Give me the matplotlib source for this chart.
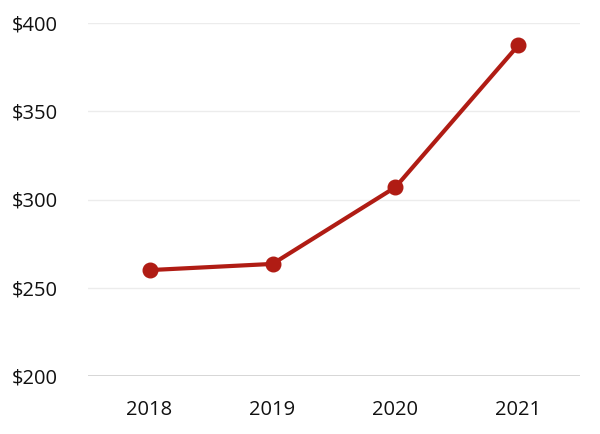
import matplotlib
matplotlib.use('Agg')
import matplotlib.pyplot as plt

# data
years = ['2018', '2019', '2020', '2021']
values = [260, 263.5, 307, 387.5]
yticks = [200, 250, 300, 350, 400]

plt.rcParams['font.family'] = ['Open Sans', 'DejaVu Sans']

fig = plt.figure(figsize=(6, 4.34), dpi=100)
ax = fig.add_axes([88/600, (434-376)/434, (580-88)/600, (376-23)/434])

x = list(range(len(years)))
ax.plot(x, values, color='#b01c14', lw=3, marker='o', ms=10.5, zorder=3)

ax.set_xlim(-0.5, len(years) - 0.5)
ax.set_ylim(200, 400)
ax.set_xticks(x)
ax.set_xticklabels(years)
ax.set_yticks(yticks)
ax.set_yticklabels(['$%d' % v for v in yticks])

for v in yticks[1:]:
    ax.axhline(v, color='#ececec', lw=1, zorder=1)
ax.axhline(200, color='#d0d0d0', lw=1.2, zorder=2)

for s in ax.spines.values():
    s.set_visible(False)
ax.tick_params(length=0, labelsize=14.5, colors='#111111')
ax.tick_params(axis='x', pad=17)
ax.tick_params(axis='y', pad=0)
for lab in ax.get_yticklabels():
    lab.set_horizontalalignment('left')
    lab.set_x(-76/492)

fig.savefig('out.png', dpi=100)
